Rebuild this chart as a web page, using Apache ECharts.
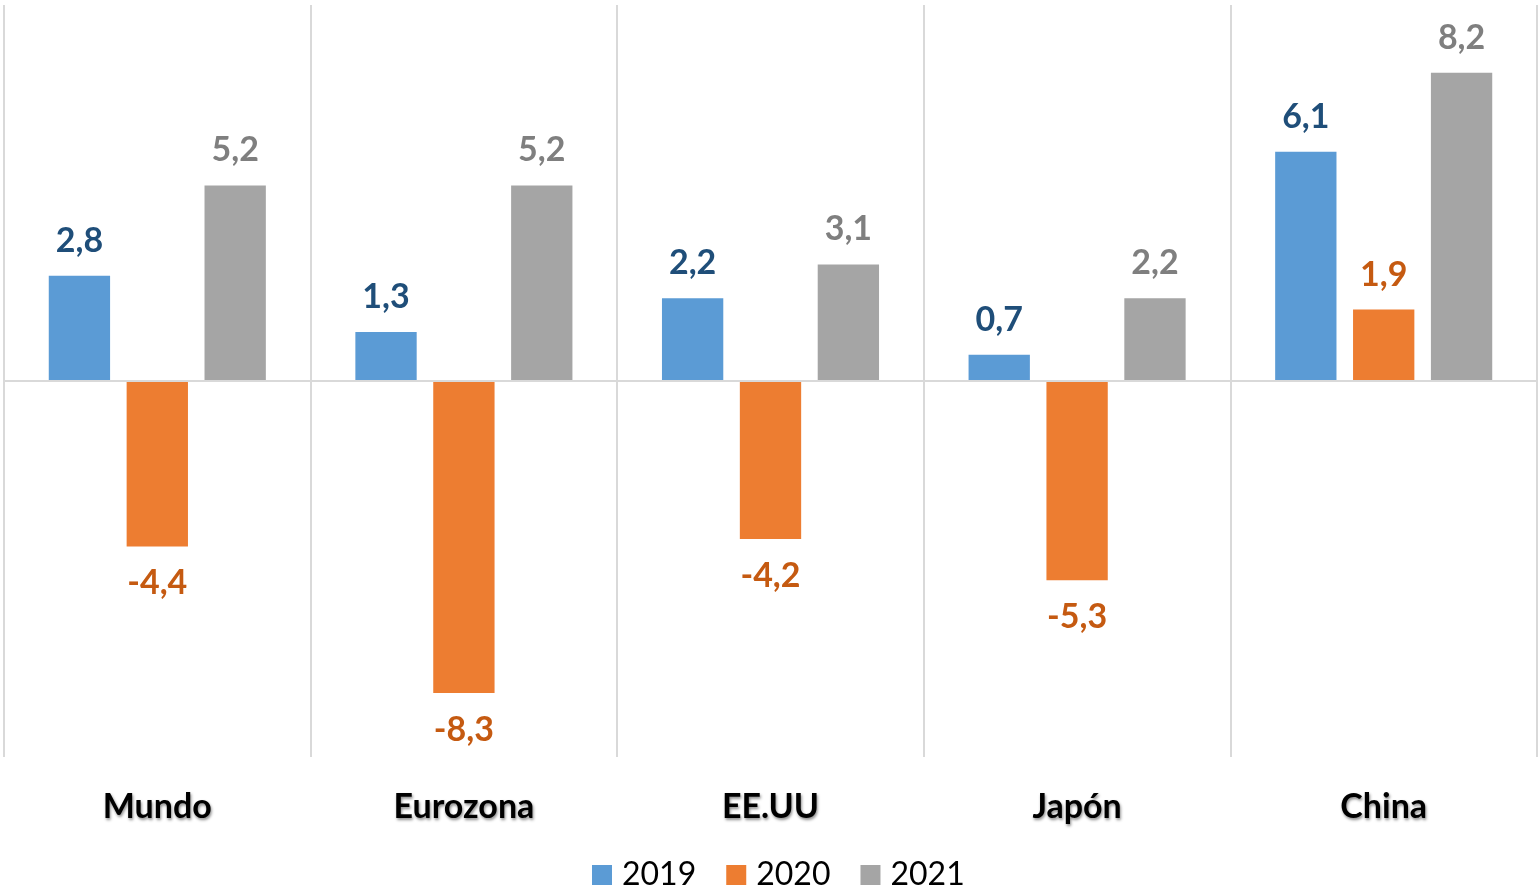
<!DOCTYPE html>
<html>
<head>
<meta charset="utf-8">
<script src="https://cdn.jsdelivr.net/npm/echarts@6/dist/echarts.min.js"></script>
<style>
html,body{margin:0;padding:0;background:#fff;}
#chart{width:1538px;height:890px;}
</style>
</head>
<body>
<div id="chart"></div>
<script>
const categories = ['Mundo', 'Eurozona', 'EE.UU', 'Japón', 'China'];
const seriesNames = ['2019', '2020', '2021'];
const values2019 = [2.8, 1.3, 2.2, 0.7, 6.1];
const values2020 = [-4.4, -8.3, -4.2, -5.3, 1.9];
const values2021 = [5.2, 5.2, 3.1, 2.2, 8.2];

const barColors = ['#5B9BD5', '#ED7D31', '#A5A5A5'];
const labelColors = ['#1F4E79', '#C55A11', '#7F7F7F'];
const FONT = 'Lato, "Open Sans", sans-serif';

function makeData(vals) {
  return vals.map(v => ({
    value: v,
    label: v < 0 ? { position: 'bottom', distance: 20 } : { position: 'top', distance: 18 }
  }));
}

const allValues = [values2019, values2020, values2021];
const series = allValues.map((vals, i) => {
  const s = {
    name: seriesNames[i],
    type: 'bar',
    data: makeData(vals),
    barWidth: '20%',
    barGap: '27%',
    itemStyle: { color: barColors[i] },
    label: {
      show: true,
      color: labelColors[i],
      fontFamily: FONT,
      fontWeight: 'bold',
      fontSize: 34,
      formatter: p => String(p.value).replace('.', ',')
    },
    emphasis: { disabled: true }
  };
  if (i === 0) {
    s.markLine = {
      silent: true,
      symbol: ['none', 'none'],
      label: { show: false },
      lineStyle: { color: '#D9D9D9', width: 2, type: 'solid' },
      data: [{ yAxis: 0 }],
      animation: false
    };
  }
  return s;
});

const chart = echarts.init(document.getElementById('chart'));
chart.setOption({
  animation: false,
  backgroundColor: '#fff',
  grid: { left: 4, right: 1, top: 5, bottom: 133, containLabel: false },
  legend: {
    data: seriesNames,
    bottom: -6,
    left: 587,
    icon: 'rect',
    itemWidth: 20,
    itemHeight: 20,
    itemGap: 30,
    textStyle: { fontFamily: FONT, fontSize: 32, color: '#000', padding: [0, 0, 0, 5] }
  },
  xAxis: {
    type: 'category',
    data: categories,
    position: 'bottom',
    axisLine: { show: false, onZero: false },
    axisTick: { show: false },
    splitLine: { show: true, lineStyle: { color: '#D9D9D9', width: 2 } },
    axisLabel: {
      margin: 33,
      fontFamily: FONT,
      fontWeight: 'bold',
      fontSize: 34,
      color: '#000',
      textShadowColor: 'rgba(0,0,0,0.45)',
      textShadowBlur: 3,
      textShadowOffsetX: 1,
      textShadowOffsetY: 2
    }
  },
  yAxis: {
    type: 'value',
    min: -10,
    max: 10,
    interval: 10,
    show: false,
    splitLine: { show: false }
  },
  series: series
});
</script>
</body>
</html>
